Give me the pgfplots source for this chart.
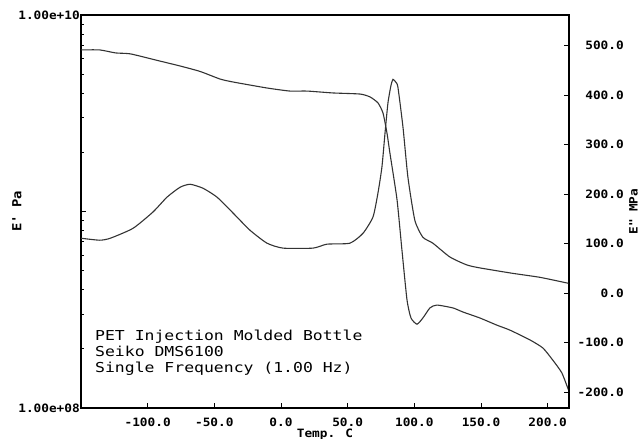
\documentclass[border=0pt]{standalone}
\usepackage{pgfplots}
\pgfplotsset{compat=1.18}
\usepackage{fontspec}
\newfontfamily\tickfont[FakeStretch=1.11]{DejaVu Sans Mono}
\newfontfamily\notefont[FakeStretch=1.2]{DejaVu Sans Mono}

\pgfplotstableread{
x y
-150 6.64e9
-136 6.64e9
-124 6.41e9
-113 6.34e9
-94.5 5.91e9
-75.7 5.50e9
-60.7 5.16e9
-45.7 4.72e9
-36 4.56e9
-10.5 4.25e9
6.7 4.10e9
19.5 4.10e9
39 4.01e9
59.2 3.96e9
66.7 3.83e9
72.7 3.57e9
76.5 3.17e9
79.5 2.50e9
81.7 1.98e9
87.0 1.15e9
90.7 6.37e8
94.5 3.55e8
97.5 2.87e8
102.0 2.67e8
106.4 2.87e8
111.7 3.23e8
116.9 3.34e8
128.9 3.23e8
136.4 3.08e8
149.2 2.87e8
161.9 2.64e8
171.7 2.49e8
186.7 2.22e8
196.4 2.02e8
203.9 1.75e8
210.6 1.51e8
215.5 1.24e8
}\Estorage

\pgfplotstableread{
x y
-150 111
-136 107
-128 111
-111 131
-96 164
-85.5 194
-75.7 214
-68.2 220
-58.5 212
-48 194
-36 162
-23.2 127
-10.5 101
1.5 91
24 91
34.5 99
51.7 101
61.5 121
69 154
72.7 202
75.7 255
78 323
80.2 384
82.5 420
84 432
86.2 426
87.7 416
91.5 335
95.2 234
100.4 147
106.4 113
113.9 101
126.7 73
139.4 57
149.2 51
173.9 40
194.2 32
215.5 20
}\Eloss

\begin{document}
\begin{tikzpicture}
\useasboundingbox (-81pt,-31pt) rectangle (559pt,408pt);
\begin{axis}[
  name=ax1,
  at={(0pt,0pt)}, anchor=south west,
  scale only axis, width=488pt, height=393pt,
  xmin=-150, xmax=216,
  ymode=log, ymin=1e8, ymax=1e10,
  xtick={-100,-50,0,50,100,150,200},
  xticklabels={-100.0,-50.0,0.0,50.0,100.0,150.0,200.0},
  ytick={1e8,1e9,1e10},
  yticklabels={1.00e+08,,1.00e+10},
  minor ytick={2e8,3e8,4e8,5e8,6e8,7e8,8e8,9e8,2e9,3e9,4e9,5e9,6e9,7e9,8e9,9e9},
  xtick pos=bottom, ytick pos=left, tick align=inside,
  major tick length=5pt, minor tick length=3pt,
  tick style={black, line width=0.9pt},
  axis line style={black, line width=1.2pt},
  ticklabel style={font=\tickfont\bfseries\fontsize{11.5}{12}\selectfont},
  xticklabel style={inner sep=0pt, anchor=north, yshift=-10pt},
  yticklabel style={inner sep=0pt, anchor=east, xshift=-1pt},
]
\addplot[black!80, line width=1.1pt, no marks, smooth, tension=0.35] table {\Estorage};
\node[anchor=base west, inner sep=0pt, font=\notefont\fontsize{13.7}{16}\selectfont] at (rel axis cs:0.0287,0.1705) {PET Injection Molded Bottle};
\node[anchor=base west, inner sep=0pt, font=\notefont\fontsize{13.7}{16}\selectfont] at (rel axis cs:0.0287,0.1298) {Seiko DMS6100};
\node[anchor=base west, inner sep=0pt, font=\notefont\fontsize{13.7}{16}\selectfont] at (rel axis cs:0.0287,0.0891) {Single Frequency (1.00 Hz)};
\end{axis}
\begin{axis}[
  name=ax2,
  at={(0pt,0pt)}, anchor=south west,
  scale only axis, width=488pt, height=393pt,
  xmin=-150, xmax=216,
  ymin=-232, ymax=562,
  hide x axis,
  axis y line*=right,
  ytick={-200,-100,0,100,200,300,400,500},
  yticklabels={-200.0,-100.0,0.0,100.0,200.0,300.0,400.0,500.0},
  ytick pos=right, tick align=inside,
  major tick length=5pt,
  tick style={black, line width=0.9pt},
  axis line style={black, line width=1.2pt},
  yticklabel style={font=\tickfont\bfseries\fontsize{11.5}{12}\selectfont, inner sep=0pt, anchor=east, xshift=55pt},
]
\addplot[black!80, line width=1.1pt, no marks, smooth, tension=0.35] table {\Eloss};
\end{axis}
\node[rotate=90, inner sep=0pt, font=\tickfont\bfseries\fontsize{12.5}{13}\selectfont] at ([xshift=-64pt]ax1.west) {E\textquotesingle{} Pa};
\node[rotate=90, inner sep=0pt, font=\tickfont\bfseries\fontsize{11.5}{12}\selectfont] at ([xshift=64.5pt]ax1.east) {E\textquotedbl{} MPa};
\node[anchor=north, inner sep=0pt, font=\tickfont\bfseries\fontsize{11.5}{12}\selectfont] at ([yshift=-21pt]ax1.south) {Temp. C};
\end{tikzpicture}
\end{document}
